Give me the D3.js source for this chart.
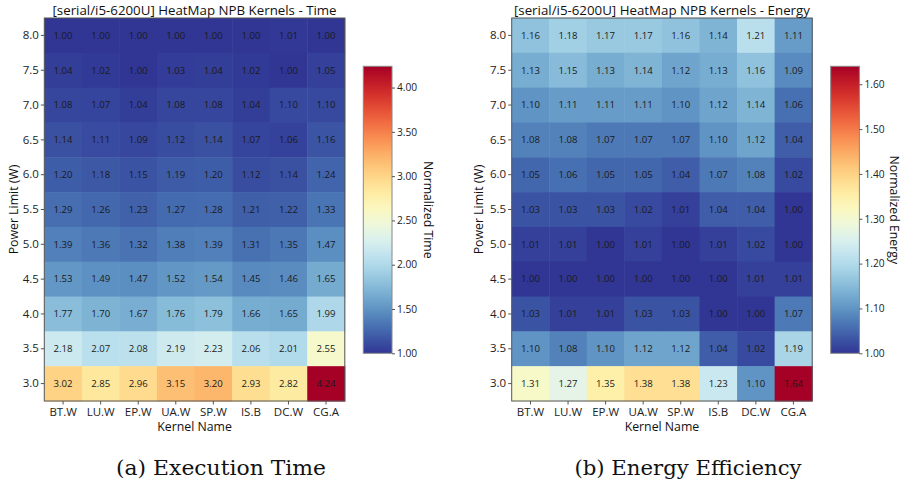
<!DOCTYPE html>
<html>
<head>
<meta charset="utf-8">
<script src="https://cdn.jsdelivr.net/npm/d3@7.9.0/dist/d3.min.js"></script>
<style>
  body { margin: 0; background: #fff; }
  svg text { font-family: "Open Sans", "DejaVu Sans", sans-serif; }
  .caption { font-family: "DejaVu Serif", "Liberation Serif", serif !important; }
</style>
</head>
<body>
<svg id="chart" width="906" height="484"></svg>
<script>
const kernels = ['BT.W', 'LU.W', 'EP.W', 'UA.W', 'SP.W', 'IS.B', 'DC.W', 'CG.A'];
const powerLimits = ['8.0', '7.5', '7.0', '6.5', '6.0', '5.5', '5.0', '4.5', '4.0', '3.5', '3.0'];

// normalized execution time, one row per power limit (top to bottom)
const timeValues = [
  [1.00, 1.00, 1.00, 1.00, 1.00, 1.00, 1.01, 1.00],
  [1.04, 1.02, 1.00, 1.03, 1.04, 1.02, 1.00, 1.05],
  [1.08, 1.07, 1.04, 1.08, 1.08, 1.04, 1.10, 1.10],
  [1.14, 1.11, 1.09, 1.12, 1.14, 1.07, 1.06, 1.16],
  [1.20, 1.18, 1.15, 1.19, 1.20, 1.12, 1.14, 1.24],
  [1.29, 1.26, 1.23, 1.27, 1.28, 1.21, 1.22, 1.33],
  [1.39, 1.36, 1.32, 1.38, 1.39, 1.31, 1.35, 1.47],
  [1.53, 1.49, 1.47, 1.52, 1.54, 1.45, 1.46, 1.65],
  [1.77, 1.70, 1.67, 1.76, 1.79, 1.66, 1.65, 1.99],
  [2.18, 2.07, 2.08, 2.19, 2.23, 2.06, 2.01, 2.55],
  [3.02, 2.85, 2.96, 3.15, 3.20, 2.93, 2.82, 4.24]
];

// normalized energy
const energyValues = [
  [1.16, 1.18, 1.17, 1.17, 1.16, 1.14, 1.21, 1.11],
  [1.13, 1.15, 1.13, 1.14, 1.12, 1.13, 1.16, 1.09],
  [1.10, 1.11, 1.11, 1.11, 1.10, 1.12, 1.14, 1.06],
  [1.08, 1.08, 1.07, 1.07, 1.07, 1.10, 1.12, 1.04],
  [1.05, 1.06, 1.05, 1.05, 1.04, 1.07, 1.08, 1.02],
  [1.03, 1.03, 1.03, 1.02, 1.01, 1.04, 1.04, 1.00],
  [1.01, 1.01, 1.00, 1.01, 1.00, 1.01, 1.02, 1.00],
  [1.00, 1.00, 1.00, 1.00, 1.00, 1.00, 1.01, 1.01],
  [1.03, 1.01, 1.01, 1.03, 1.03, 1.00, 1.00, 1.07],
  [1.10, 1.08, 1.10, 1.12, 1.12, 1.04, 1.02, 1.19],
  [1.31, 1.27, 1.35, 1.38, 1.38, 1.23, 1.10, 1.64]
];

const timeTicks = [1.00, 1.50, 2.00, 2.50, 3.00, 3.50, 4.00];
const energyTicks = [1.00, 1.10, 1.20, 1.30, 1.40, 1.50, 1.60];

const svg = d3.select('#chart');
const rdylbu_r = (t) => d3.interpolateRdYlBu(1 - t);

function drawPanel(opts) {
  const { id, left, values, ticks, title, cbarLabel, caption, cbarLeft, cbarLabelX, yLabelX } = opts;
  const top = 18, bottom = 401, width = 300.5;
  const cbTop = 66.3, cbBottom = 353.3, cbWidth = 28.7;

  const flat = values.flat();
  const vmin = d3.min(flat), vmax = d3.max(flat);
  const color = d3.scaleSequential(rdylbu_r).domain([vmin, vmax]);

  const x = d3.scaleBand().domain(kernels).range([left, left + width]);
  const y = d3.scaleBand().domain(powerLimits).range([top, bottom]);

  const g = svg.append('g');

  const cells = [];
  values.forEach((row, i) => row.forEach((v, j) => cells.push({ p: powerLimits[i], k: kernels[j], v })));

  g.selectAll('rect.cell')
    .data(cells)
    .join('rect')
    .attr('class', 'cell')
    .attr('x', (d) => x(d.k))
    .attr('y', (d) => y(d.p))
    .attr('width', x.bandwidth() + 0.5)
    .attr('height', y.bandwidth() + 0.5)
    .attr('fill', (d) => color(d.v));

  g.selectAll('text.val')
    .data(cells)
    .join('text')
    .attr('class', 'val')
    .attr('x', (d) => x(d.k) + x.bandwidth() / 2)
    .attr('y', (d) => y(d.p) + y.bandwidth() / 2)
    .attr('dy', '0.35em')
    .attr('text-anchor', 'middle')
    .attr('font-size', 9.6)
    .attr('fill', '#1a1a1a')
    .text((d) => d.v.toFixed(2));

  // frame
  g.append('rect')
    .attr('x', left).attr('y', top)
    .attr('width', width).attr('height', bottom - top)
    .attr('fill', 'none').attr('stroke', '#555').attr('stroke-width', 1);

  const yAxis = g.append('g')
    .attr('transform', `translate(${left},0)`)
    .call(d3.axisLeft(y).tickSize(3.5).tickPadding(2));
  const xAxis = g.append('g')
    .attr('transform', `translate(0,${bottom})`)
    .call(d3.axisBottom(x).tickSize(3.5).tickPadding(3));
  [yAxis, xAxis].forEach((a) => {
    a.select('.domain').remove();
    a.selectAll('line').attr('stroke', '#555');
    a.selectAll('text').attr('font-size', 11.5).attr('fill', '#222')
      .attr('font-family', '"Open Sans", sans-serif');
  });

  g.append('text')
    .attr('x', left + width / 2).attr('y', 14.5)
    .attr('text-anchor', 'middle')
    .attr('font-size', 13.3).attr('fill', '#111')
    .text(title);

  g.append('text')
    .attr('x', left + width / 2).attr('y', 431)
    .attr('text-anchor', 'middle')
    .attr('font-size', 12.3).attr('fill', '#111')
    .text('Kernel Name');

  g.append('text')
    .attr('transform', `translate(${yLabelX},${(top + bottom) / 2}) rotate(-90)`)
    .attr('text-anchor', 'middle')
    .attr('dy', '0.35em')
    .attr('font-size', 12.3).attr('fill', '#111')
    .text('Power Limit (W)');

  // colorbar
  const grad = svg.append('defs').append('linearGradient')
    .attr('id', id).attr('x1', 0).attr('y1', 1).attr('x2', 0).attr('y2', 0);
  d3.range(0, 1.0001, 0.05).forEach((t) => {
    grad.append('stop').attr('offset', t).attr('stop-color', rdylbu_r(t));
  });

  g.append('rect')
    .attr('x', cbarLeft).attr('y', cbTop)
    .attr('width', cbWidth).attr('height', cbBottom - cbTop)
    .attr('fill', `url(#${id})`)
    .attr('stroke', '#888').attr('stroke-width', 1);

  const cbScale = d3.scaleLinear().domain([vmin, vmax]).range([cbBottom, cbTop]);
  const cbAxis = g.append('g')
    .attr('transform', `translate(${cbarLeft + cbWidth},0)`)
    .call(d3.axisRight(cbScale).tickValues(ticks).tickFormat(d3.format('.2f')).tickSize(3).tickPadding(2));
  cbAxis.select('.domain').remove();
  cbAxis.selectAll('line').attr('stroke', '#555');
  cbAxis.selectAll('text').attr('font-size', 10.2).attr('fill', '#222')
    .attr('font-family', '"Open Sans", sans-serif');

  g.append('text')
    .attr('transform', `translate(${cbarLabelX},${(cbTop + cbBottom) / 2}) rotate(90)`)
    .attr('text-anchor', 'middle')
    .attr('dy', '0.35em')
    .attr('font-size', 12.3).attr('fill', '#111')
    .text(cbarLabel);

  g.append('text')
    .attr('class', 'caption')
    .attr('x', opts.captionX).attr('y', 475)
    .attr('text-anchor', 'middle')
    .attr('font-size', 21).attr('fill', '#111')
    .attr('textLength', opts.captionWidth)
    .attr('lengthAdjust', 'spacingAndGlyphs')
    .text(caption);
}

drawPanel({
  id: 'gradTime', left: 44.3, values: timeValues, ticks: timeTicks,
  title: '[serial/i5-6200U] HeatMap NPB Kernels - Time',
  cbarLabel: 'Normalized Time', caption: '(a) Execution Time',
  cbarLeft: 363.3, cbarLabelX: 428, yLabelX: 14, captionX: 221, captionWidth: 210
});

drawPanel({
  id: 'gradEnergy', left: 511.7, values: energyValues, ticks: energyTicks,
  title: '[serial/i5-6200U] HeatMap NPB Kernels - Energy',
  cbarLabel: 'Normalized Energy', caption: '(b) Energy Efficiency',
  cbarLeft: 830.7, cbarLabelX: 894, yLabelX: 478.5, captionX: 688, captionWidth: 227
});
</script>
</body>
</html>
